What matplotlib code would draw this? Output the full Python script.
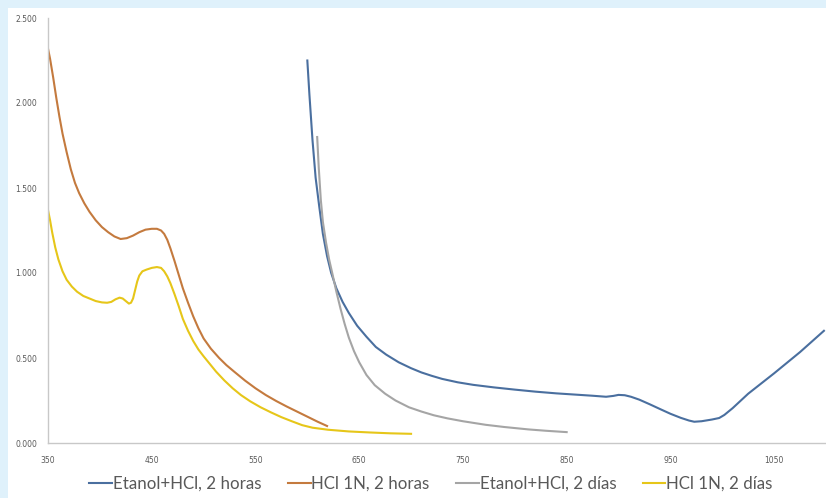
import numpy as np
import matplotlib.pyplot as plt
from matplotlib.patches import Rectangle

# wavelength (nm) / absorbance
wl_eth_2h = [600, 602, 605, 608, 611.5, 615, 619, 623, 628, 634, 640, 648, 657, 666, 676, 688,
             700, 710, 720, 730, 745, 760, 780, 800, 820, 840, 860, 875, 888, 895, 900, 906,
             912, 920, 930, 941, 950, 960, 968, 973, 980, 990, 997, 1002, 1010, 1025, 1050,
             1075, 1098]
abs_eth_2h = [2.25, 2.05, 1.78, 1.56, 1.39, 1.23, 1.10, 1.00, 0.91, 0.83, 0.765, 0.69, 0.625, 0.565, 0.52, 0.475,
              0.44, 0.415, 0.395, 0.377, 0.357, 0.342, 0.327, 0.314, 0.302, 0.292, 0.284, 0.278, 0.272, 0.277, 0.283, 0.281,
              0.272, 0.255, 0.228, 0.197, 0.172, 0.148, 0.132, 0.125, 0.128, 0.138, 0.147, 0.165, 0.205, 0.29, 0.41,
              0.535, 0.66]

wl_hcl_2h = [350, 352, 355, 358, 361, 364, 368, 372, 376, 380, 385, 390, 396, 402, 408, 414,
             420, 426, 432, 438, 444, 450, 455, 459, 462, 465, 468, 472, 476, 480, 485, 490,
             495, 500, 507, 515, 522, 530, 540, 550, 560, 570, 580, 590, 600, 610, 619]
abs_hcl_2h = [2.32, 2.26, 2.15, 2.03, 1.92, 1.82, 1.71, 1.61, 1.53, 1.47, 1.41, 1.36, 1.31, 1.27, 1.24, 1.215,
              1.20, 1.205, 1.22, 1.24, 1.255, 1.26, 1.26, 1.25, 1.23, 1.195, 1.145, 1.07, 0.99, 0.91, 0.825, 0.745,
              0.675, 0.615, 0.555, 0.50, 0.458, 0.417, 0.367, 0.322, 0.282, 0.247, 0.215, 0.185, 0.155, 0.125, 0.10]

wl_eth_2d = [609.5, 611, 613, 615, 618, 621, 624, 628, 632, 636, 640, 645, 650, 657, 665, 675,
             685, 698, 710, 722, 735, 750, 772, 790, 813, 830, 850]
abs_eth_2d = [1.80, 1.62, 1.43, 1.30, 1.18, 1.08, 1.00, 0.89, 0.79, 0.70, 0.62, 0.54, 0.475, 0.40, 0.34, 0.29,
              0.25, 0.21, 0.185, 0.163, 0.145, 0.128, 0.107, 0.094, 0.08, 0.072, 0.064]

wl_hcl_2d = [350, 352, 354, 357, 360, 364, 368, 373, 378, 384, 390, 396, 402, 407, 411, 415,
             419, 422, 425, 428, 430, 432, 434, 436, 438, 441, 445, 450, 455, 459, 462, 465,
             468, 472, 476, 480, 485, 490, 495, 500, 506, 512, 520, 528, 536, 545, 555, 565,
             575, 585, 595, 605, 620, 640, 660, 680, 700]
abs_hcl_2d = [1.37, 1.31, 1.24, 1.15, 1.08, 1.01, 0.96, 0.92, 0.89, 0.865, 0.85, 0.835, 0.827, 0.825, 0.83, 0.845,
              0.855, 0.85, 0.835, 0.82, 0.825, 0.85, 0.90, 0.95, 0.985, 1.01, 1.02, 1.03, 1.035, 1.03, 1.01, 0.98,
              0.94, 0.875, 0.805, 0.73, 0.66, 0.60, 0.55, 0.51, 0.465, 0.42, 0.368, 0.322, 0.282, 0.245, 0.21, 0.18,
              0.152, 0.128, 0.105, 0.09, 0.078, 0.068, 0.062, 0.057, 0.054]

series = [
    (wl_eth_2h, abs_eth_2h, 'Etanol+HCl, 2 horas', '#4A6F9F'),
    (wl_hcl_2h, abs_hcl_2h, 'HCl 1N, 2 horas', '#C47A3E'),
    (wl_eth_2d, abs_eth_2d, 'Etanol+HCl, 2 días', '#A5A5A5'),
    (wl_hcl_2d, abs_hcl_2d, 'HCl 1N, 2 días', '#E6C619'),
]
xticks = [350, 450, 550, 650, 750, 850, 950, 1050]
yticks = [0, 0.5, 1.0, 1.5, 2.0, 2.5]

fig = plt.figure(figsize=(8.26, 4.98), dpi=100)
fig.patch.set_facecolor('#DFF1FB')
# white panel inside the light blue frame
fig.patches.append(Rectangle((8 / 826, 0), 1, 490 / 498, transform=fig.transFigure,
                             facecolor='white', edgecolor='none', zorder=-10))

ax = fig.add_axes([48 / 826, 55 / 498, 778 / 826, 425 / 498])
ax.set_facecolor('none')
for x, y, lab, c in series:
    ax.plot(x, y, color=c, lw=1.5, label=lab, solid_joinstyle='round')

ax.set_xlim(350, 1100)
ax.set_ylim(0, 2.5)
ax.set_xticks(xticks)
ax.set_yticks(yticks)
ax.set_yticklabels(['%.3f' % v for v in yticks])
ax.tick_params(length=0, labelsize=5.5, labelcolor='#595959')
ax.tick_params(axis='x', pad=9)
ax.tick_params(axis='y', pad=8)
for s in ['top', 'right']:
    ax.spines[s].set_visible(False)
for s in ['left', 'bottom']:
    ax.spines[s].set_color('#C8C8C8')
    ax.spines[s].set_linewidth(1.0)

leg = fig.legend(loc='center', bbox_to_anchor=(431 / 826, 14 / 498), ncol=4, frameon=False,
                 prop={'family': 'Lato', 'size': 12.2}, handlelength=1.35, handletextpad=0.05,
                 columnspacing=1.55)
for t in leg.get_texts():
    t.set_color('#595959')

fig.savefig('out.png', dpi=100, facecolor=fig.get_facecolor())
